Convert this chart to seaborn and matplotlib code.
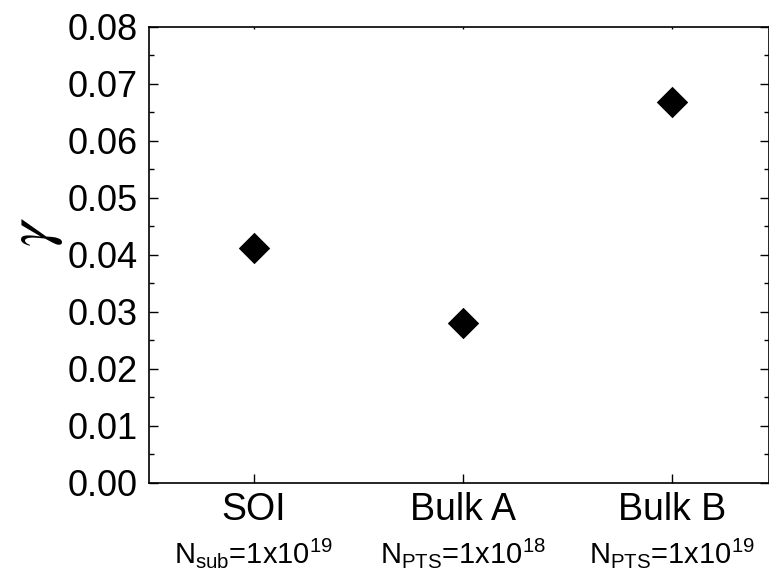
import matplotlib
matplotlib.use("Agg")
import matplotlib.pyplot as plt
import matplotlib.transforms as mtransforms
import seaborn as sns
import pandas as pd

# Device types and their extracted gamma values
devices = ["SOI", "Bulk A", "Bulk B"]
gamma = [0.0411, 0.0281, 0.0668]
doping = [r"N$_\mathregular{sub}$=1x10$^\mathregular{19}$",
          r"N$_\mathregular{PTS}$=1x10$^\mathregular{18}$",
          r"N$_\mathregular{PTS}$=1x10$^\mathregular{19}$"]
y_ticks = [0.00, 0.01, 0.02, 0.03, 0.04, 0.05, 0.06, 0.07, 0.08]

sns.set_theme(style="ticks")
plt.rcParams["font.family"] = ["Liberation Sans", "DejaVu Sans"]
plt.rcParams["mathtext.fontset"] = "custom"
plt.rcParams["mathtext.rm"] = "Liberation Sans"
plt.rcParams["mathtext.it"] = "Liberation Sans:italic"

df = pd.DataFrame({"device": devices, "gamma": gamma})

fig = plt.figure(figsize=(7.69, 5.81), dpi=100)
ax = fig.add_axes([0.1938, 0.1692, 0.8056, 0.7849])

sns.stripplot(data=df, x="device", y="gamma", order=devices, jitter=False,
              marker="D", size=16, color="black", linewidth=0, ax=ax)

ax.set_xlim(-0.5, 2.46)
ax.set_ylim(0, 0.08)
ax.set_yticks(y_ticks)
ax.set_yticklabels([f"{v:.2f}" for v in y_ticks])
ax.yaxis.set_minor_locator(matplotlib.ticker.MultipleLocator(0.005))
ax.set_xlabel("")
ax.set_ylabel("")

for side in ["left", "right", "top", "bottom"]:
    ax.spines[side].set_visible(True)
    ax.spines[side].set_linewidth(1.2)
    ax.spines[side].set_color("black")

ax.tick_params(axis="y", which="major", direction="in", length=6.5, width=1.0,
               labelsize=26, pad=8, right=True, colors="black")
ax.tick_params(axis="y", which="minor", direction="in", length=3.5, width=1.0,
               right=True, colors="black")
ax.tick_params(axis="x", which="major", direction="in", length=6.5, width=1.0,
               labelsize=27, pad=7, colors="black")
ax.tick_params(axis="x", which="major", top=True)
for t in ax.xaxis.get_major_ticks():
    t.tick2line.set_markersize(1.5)

# Doping concentration under each device name
trans = mtransforms.blended_transform_factory(ax.transData, ax.transAxes)
for i, txt in enumerate(doping):
    ax.text(i, -0.176, txt, transform=trans, ha="center", va="baseline",
            fontsize=21, color="black")

fig.text(35 / 769, 1 - 232 / 581, r"$\gamma$", rotation=90, ha="center",
         va="center", fontsize=46, color="black", math_fontfamily="stix")

fig.savefig("out.png", dpi=100, facecolor="white")
